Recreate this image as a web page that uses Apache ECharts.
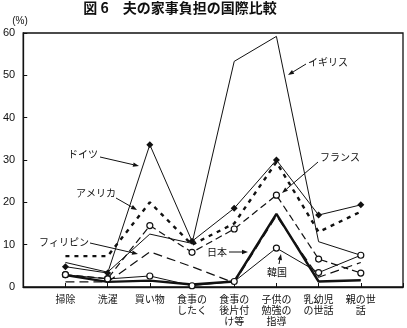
<!DOCTYPE html>
<html><head><meta charset="utf-8">
<script src="https://cdn.jsdelivr.net/npm/echarts@6/dist/echarts.min.js"></script>
<style>html,body{margin:0;padding:0;background:#fff}#c{width:407px;height:328px}</style>
</head><body><div id="c"></div>
<script>
const categories = ['掃除','洗濯','買い物','食事の\nしたく','食事の\n後片付\nけ等','子供の\n勉強の\n指導','乳幼児\nの世話','親の世\n話'];
const yTickLabels = ['0','10','20','30','40','50','60'];
const uk = [5.8, 3.5, 12.5, 10.3, 53.3, 59.2, 10.7, 7.5];
const germany = [4.8, 3.3, 33.6, 10.8, 18.6, 30.0, 17.0, 19.4];
const usa = [7.3, 7.3, 20.0, 10.0, 15.0, 29.5, 13.0, 17.8];
const france = [2.9, 2.0, 14.5, 8.2, 13.7, 21.7, 6.6, 3.3];
const philippines = [1.2, 1.2, 8.3, 4.8, 1.0, 16.8, 2.3, 5.8];
const japan = [2.8, 1.2, 1.5, 0.6, 1.3, 17.3, 1.3, 1.6];
const korea = [2.9, 1.9, 2.6, 0.3, 1.3, 9.2, 3.4, 7.5];

const pad = a => [null, ...a, null];
const ink = '#111';
const chart = echarts.init(document.getElementById('c'), null, {renderer: 'canvas'});

function arrow(x1, y1, x2, y2) {
  const ang = Math.atan2(y2 - y1, x2 - x1), L = 6, W = 2.2;
  const bx = x2 - L * Math.cos(ang), by = y2 - L * Math.sin(ang);
  const px = -Math.sin(ang) * W, py = Math.cos(ang) * W;
  return [
    {type: 'line', shape: {x1, y1, x2: bx, y2: by}, style: {stroke: ink, lineWidth: 1}, z: 10},
    {type: 'polygon', shape: {points: [[x2, y2], [bx + px, by + py], [bx - px, by - py]]}, style: {fill: ink}, z: 10}
  ];
}
function label(text, x, y) {
  return {type: 'text', x, y, style: {text, fill: ink, font: '10px "Noto Sans CJK JP"', textAlign: 'center', textVerticalAlign: 'middle'}, z: 10};
}

const base = {type: 'line', animation: false, symbol: 'none', z: 3};
chart.setOption({
  backgroundColor: '#fff',
  animation: false,
  grid: {left: 22, right: 4, top: 33, bottom: 41, show: true, borderColor: ink, borderWidth: 1.3, backgroundColor: 'transparent'},
  xAxis: {
    type: 'category', boundaryGap: false, data: ['', ...categories, ''],
    axisLine: {lineStyle: {color: ink, width: 1.3}},
    axisTick: {inside: true, length: 4, lineStyle: {color: ink}, alignWithLabel: true},
    axisLabel: {interval: 0, fontSize: 10, lineHeight: 11, margin: 7, color: ink, fontFamily: '"Noto Sans CJK JP"'},
    splitLine: {show: false}
  },
  yAxis: {
    type: 'value', min: 0, max: 60, interval: 10,
    axisLine: {show: true, lineStyle: {color: ink, width: 1.3}},
    axisTick: {show: true, inside: true, length: 4, lineStyle: {color: ink}},
    axisLabel: {fontSize: 11, margin: 8, color: ink, fontFamily: '"Liberation Sans"', formatter: v => yTickLabels[v / 10]},
    splitLine: {show: false}
  },
  series: [
    Object.assign({}, base, {name: 'イギリス', data: pad(uk), lineStyle: {color: ink, width: 1}}),
    Object.assign({}, base, {name: 'ドイツ', data: pad(germany), lineStyle: {color: ink, width: 1}, symbol: 'diamond', symbolSize: 7, itemStyle: {color: ink}}),
    Object.assign({}, base, {name: 'アメリカ', data: pad(usa), lineStyle: {color: ink, width: 2.4, type: [4, 5]}}),
    Object.assign({}, base, {name: 'フランス', data: pad(france), lineStyle: {color: ink, width: 1.2, type: [7, 4]}, symbol: 'circle', symbolSize: 6, itemStyle: {color: '#fff', borderColor: ink, borderWidth: 1.2}, z: 5}),
    Object.assign({}, base, {name: 'フィリピン', data: pad(philippines), lineStyle: {color: ink, width: 1.2, type: [9, 5]}}),
    Object.assign({}, base, {name: '日本', data: pad(japan), lineStyle: {color: ink, width: 2.4}}),
    Object.assign({}, base, {name: '韓国', data: pad(korea), lineStyle: {color: ink, width: 1}, symbol: 'circle', symbolSize: 6, itemStyle: {color: '#fff', borderColor: ink, borderWidth: 1.2}, z: 6})
  ],
  graphic: [
    {type: 'text', x: 180, y: 8, style: {text: '図 6　夫の家事負担の国際比較', fill: ink, font: 'bold 14px "Noto Sans CJK JP"', textAlign: 'center', textVerticalAlign: 'middle'}},
    {type: 'text', x: 20, y: 21, style: {text: '(%)', fill: ink, font: '10px "Liberation Sans"', textAlign: 'center', textVerticalAlign: 'middle'}},
    label('イギリス', 328, 62), ...arrow(306, 64, 288, 75),
    label('ドイツ', 83, 154), ...arrow(100, 157, 139, 166),
    label('アメリカ', 96, 193), ...arrow(116, 198, 137, 210),
    label('フィリピン', 64, 242), ...arrow(90, 243, 138, 254),
    label('フランス', 340, 157), ...arrow(318, 162, 282, 193),
    label('日本', 217, 252), ...arrow(229, 252, 248, 252),
    label('韓国', 277, 272), ...arrow(279, 264, 281, 254)
  ]
});
</script></body></html>
